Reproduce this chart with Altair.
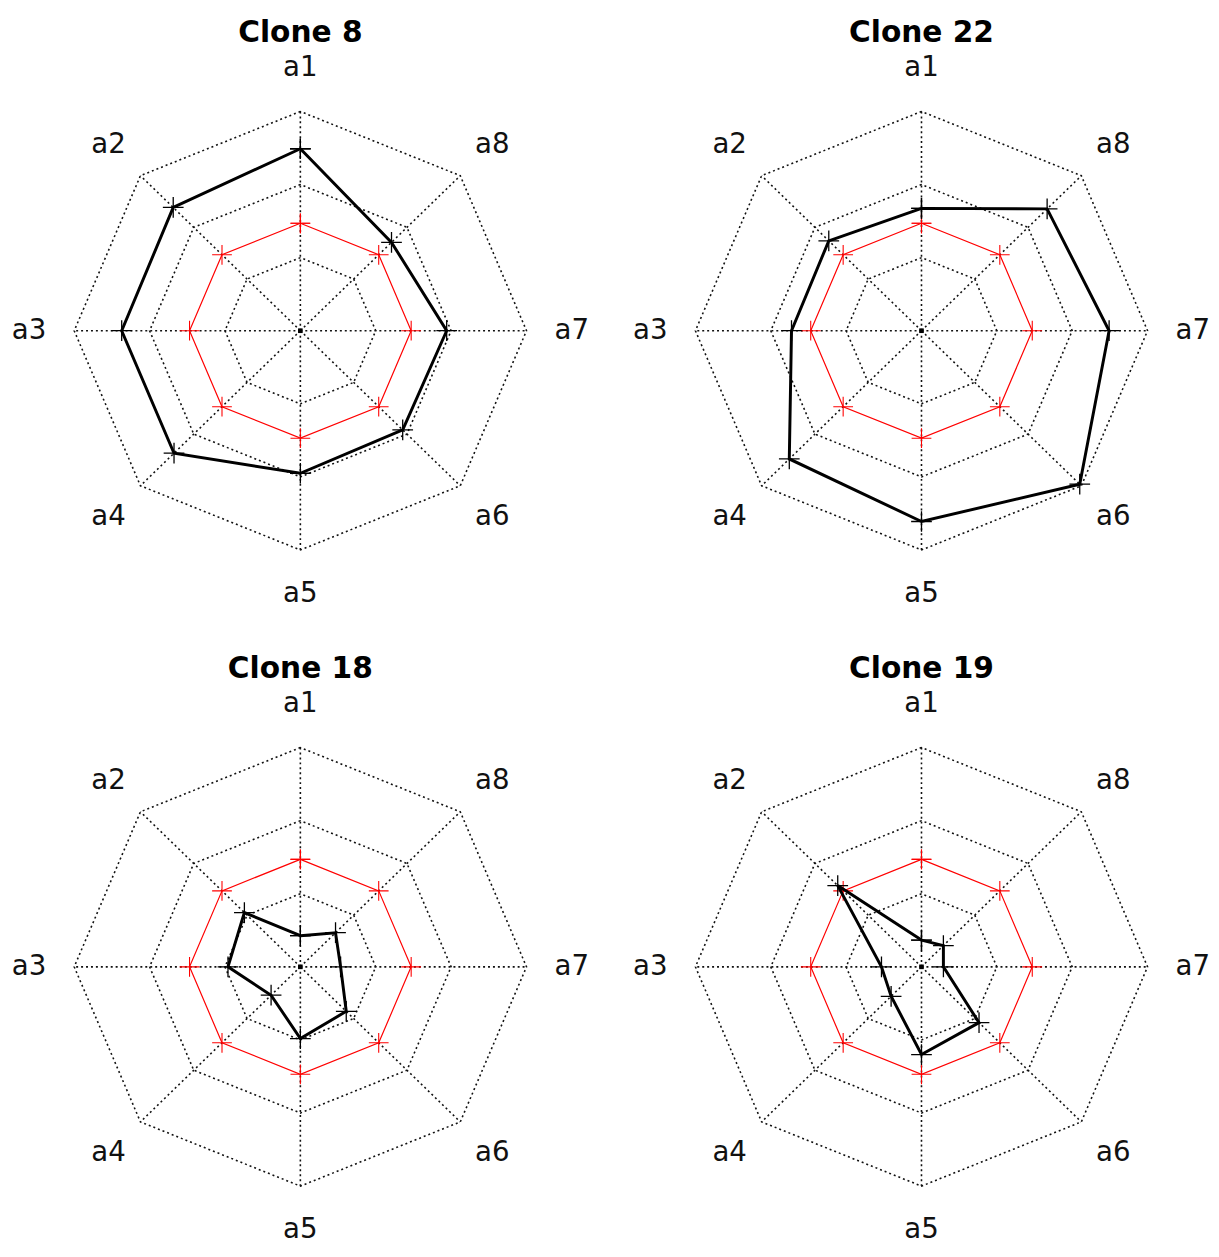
import altair as alt
import pandas as pd

# ---------------- data ----------------
axis_labels = ["a1", "a2", "a3", "a4", "a5", "a6", "a7", "a8"]
clone_names = ["Clone 8", "Clone 22", "Clone 18", "Clone 19"]

# values as fraction of the outer ring radius, axes a1..a8
clone_8 = [0.83, 0.795, 0.79, 0.79, 0.65, 0.64, 0.647, 0.57]
clone_22 = [0.558, 0.58, 0.575, 0.827, 0.87, 0.99, 0.83, 0.786]
clone_18 = [0.142, 0.35, 0.32, 0.183, 0.327, 0.287, 0.178, 0.22]
clone_19 = [0.122, 0.524, 0.177, 0.19, 0.40, 0.36, 0.097, 0.137]
reference_line = [0.49, 0.49, 0.49, 0.49, 0.49, 0.49, 0.49, 0.49]
grid_levels = [1 / 3, 2 / 3, 1.0]

series = {
    "Clone 8": clone_8,
    "Clone 22": clone_22,
    "Clone 18": clone_18,
    "Clone 19": clone_19,
}

LABEL_R = 1.2
TITLE_Y = 1.356
PLUS = "M-1,0H1M0,-1V1"
FONT = "DejaVu Sans"
GRID_COLOR = "#111"


def closed_rows(vals):
    return pd.DataFrame(
        [{"k": i % 8, "order": i, "r": vals[i % 8]} for i in range(9)]
    )


def to_xy(ch):
    return ch.transform_calculate(
        ang="PI / 2 + datum.k * PI / 4"
    ).transform_calculate(
        px="datum.r * cos(datum.ang)"
    ).transform_calculate(
        py="datum.r * sin(datum.ang)"
    )


def panel(name, xdom, ydom, w, h):
    X = alt.X("px:Q", scale=alt.Scale(domain=xdom, nice=False, zero=False), axis=None)
    Y = alt.Y("py:Q", scale=alt.Scale(domain=ydom, nice=False, zero=False), axis=None)

    rings = pd.DataFrame(
        [{"level": j, "k": i % 8, "order": i, "r": lv}
         for j, lv in enumerate(grid_levels) for i in range(9)]
    )
    spokes = pd.DataFrame(
        [{"k": k, "order": o, "r": rr} for k in range(8) for o, rr in enumerate([0.0, 1.0])]
    )
    labels = pd.DataFrame([{"k": k, "r": LABEL_R, "lab": axis_labels[k]} for k in range(8)])
    data = closed_rows(series[name])
    ref = closed_rows(reference_line)

    spoke_layer = to_xy(alt.Chart(spokes)).mark_line(
        color=GRID_COLOR, strokeWidth=1.6, strokeDash=[2, 3]
    ).encode(x=X, y=Y, detail="k:N", order="order:Q")

    ring_layer = to_xy(alt.Chart(rings)).mark_line(
        color=GRID_COLOR, strokeWidth=1.6, strokeDash=[2, 3]
    ).encode(x=X, y=Y, detail="level:N", order="order:Q")

    center = alt.Chart(pd.DataFrame({"px": [0.0], "py": [0.0]})).mark_square(
        size=22, color="black", opacity=1
    ).encode(x=X, y=Y)

    red_line = to_xy(alt.Chart(ref)).mark_line(color="#ff0000", strokeWidth=1.2).encode(
        x=X, y=Y, order="order:Q"
    )
    red_pts = to_xy(alt.Chart(ref)).mark_point(
        shape=PLUS, size=400, color="#ff0000", strokeWidth=1.1, filled=False, opacity=1
    ).encode(x=X, y=Y)

    black_line = to_xy(alt.Chart(data)).mark_line(color="black", strokeWidth=3).encode(
        x=X, y=Y, order="order:Q"
    )
    black_pts = to_xy(alt.Chart(data)).mark_point(
        shape=PLUS, size=440, color="black", strokeWidth=1.3, filled=False, opacity=1
    ).encode(x=X, y=Y)

    label_layer = to_xy(alt.Chart(labels)).mark_text(
        font=FONT, fontSize=28, color="#111", align="center", baseline="middle"
    ).encode(x=X, y=Y, text="lab:N")

    title_layer = alt.Chart(pd.DataFrame({"title": [name]})).mark_text(
        font=FONT, fontSize=30, fontWeight="bold", color="black",
        align="center", baseline="middle"
    ).encode(
        x=alt.datum(0.0, scale=alt.Scale(domain=xdom, nice=False, zero=False), axis=None),
        y=alt.datum(TITLE_Y, scale=alt.Scale(domain=ydom, nice=False, zero=False), axis=None),
        text="title:N",
    )

    return alt.layer(
        spoke_layer, ring_layer, center, red_line, red_pts,
        black_line, black_pts, label_layer, title_layer
    ).properties(width=w, height=h)


XL = [-1.284, 1.284]
XR = [-1.284, 1.237]
YT = [-1.446, 1.437]
YB = [-1.252, 1.437]

top = alt.hconcat(
    panel("Clone 8", XL, YT, 588, 640),
    panel("Clone 22", XR, YT, 577, 640),
    spacing=41,
).resolve_scale(x="independent", y="independent")

bottom = alt.hconcat(
    panel("Clone 18", XL, YB, 588, 597),
    panel("Clone 19", XR, YB, 577, 597),
    spacing=41,
).resolve_scale(x="independent", y="independent")

chart = alt.vconcat(top, bottom, spacing=4).resolve_scale(
    x="independent", y="independent"
).properties(
    padding={"left": 2, "top": 0, "right": 0, "bottom": 0}
).configure_view(strokeWidth=0)

chart.save("out.html", embed_options={"renderer": "svg", "actions": False})
